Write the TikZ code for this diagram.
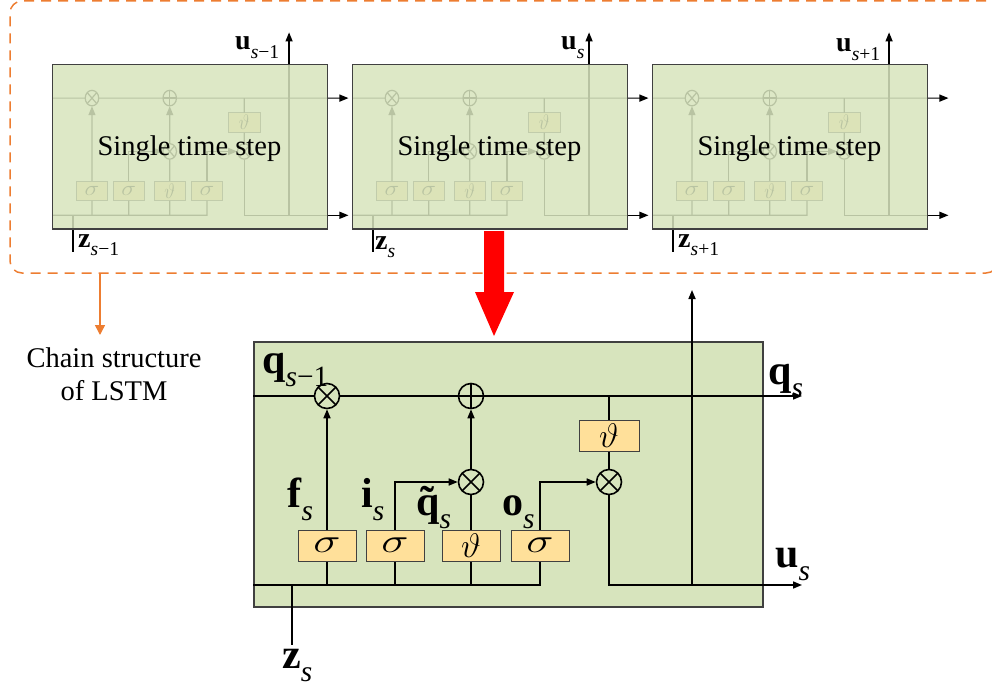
\RequirePackage{fix-cm}
\documentclass[tikz,border=0pt]{standalone}
\usepackage{fontspec}
\setmainfont{Liberation Serif}
\usepackage{graphicx}
\usetikzlibrary{arrows.meta}

\definecolor{cellgreen}{HTML}{D7E4BD}
\definecolor{gatefill}{HTML}{FFE09A}
\definecolor{chainorange}{HTML}{ED7D31}

\newcommand{\vsub}[2]{\textbf{#1}\textsubscript{\raisebox{-.24em}{#2}}}
\newcommand{\tq}{\accent"02DC q}
\newcommand{\sig}{\scalebox{1.35}[1]{$\sigma$}}
\newcommand{\lstmcell}{%
  \coordinate (qin) at (0,55);
  \coordinate (zin) at (0,244);
  \coordinate (qout) at (549,55);
  \coordinate (uout) at (549,244);
  \coordinate (utop) at (439,-51);
  \coordinate (zbot) at (39,304);
  \coordinate (mid) at (254.5,132.5);
  \node[mult] (fx) at (74,55) {};
  \node[addop] (ad) at (218,55) {};
  \node[mult] (ix) at (218,141) {};
  \node[mult] (ox) at (356,141) {};
  \node[gate] (fg) at (74,204.5) {\sig};
  \node[gate] (ig) at (142,204.5) {\sig};
  \node[gate] (cg) at (218,204.5) {$\vartheta$};
  \node[gate] (og) at (287,204.5) {\sig};
  \node[gate,minimum width=60pt] (tg) at (356,94.5) {$\vartheta$};
  \draw[wire] (qin) -- (fx) -- (ad);
  \draw[wire,->] (ad) -- (qout);
  \draw[wire] (zin) -- (og.south |- zin) -- (og);
  \draw[wire] (fg.south |- zin) -- (fg);
  \draw[wire] (ig.south |- zin) -- (ig);
  \draw[wire] (cg.south |- zin) -- (cg);
  \draw[wire,->] (fg) -- (fx);
  \draw[wire,->] (ig) |- (ix);
  \draw[wire] (cg) -- (ix);
  \draw[wire,->] (ix) -- (ad);
  \draw[wire,->] (og) |- (ox);
  \draw[wire] (tg.north |- qin) -- (tg) -- (ox);
  \draw[wire,->] (ox) |- (uout);
  \draw[wire,->] (utop |- uout) -- (utop);
  \draw[wire] (zbot |- zin) -- (zbot);
}

\begin{document}
\begin{tikzpicture}[x=1pt,y=-1pt,>={Triangle[length=9pt,width=7pt]},
  wire/.style={line width=1.6pt},
  gate/.style={draw=black!75,fill=gatefill,line width=1pt,minimum width=58pt,
    minimum height=31pt,inner sep=0pt,font=\fontsize{34}{36}\selectfont},
  mult/.style={circle,draw,wire,minimum size=25pt,inner sep=0pt,
    path picture={\draw[wire] (path picture bounding box.north west)
      -- (path picture bounding box.south east)
      (path picture bounding box.south west)
      -- (path picture bounding box.north east);}},
  addop/.style={circle,draw,wire,minimum size=25pt,inner sep=0pt,
    path picture={\draw[wire] (path picture bounding box.north)
      -- (path picture bounding box.south)
      (path picture bounding box.west)
      -- (path picture bounding box.east);}},
  cellbox/.style={draw=black!75,line width=1.6pt,fill=cellgreen,inner sep=0pt,
    minimum width=509pt,minimum height=265pt,anchor=north west},
  chainbox/.style={draw=chainorange,line width=1.5pt,dash pattern=on 10pt off 7pt,
    rounded corners=12pt,minimum width=988pt,minimum height=272pt},
  steptext/.style={font=\fontsize{28.5}{34}\selectfont},
  smalllbl/.style={anchor=base west,inner sep=0pt,font=\fontsize{28}{30}\selectfont},
  biglbl/.style={anchor=base west,inner sep=0pt,font=\fontsize{42}{44}\selectfont}]
 \useasboundingbox (0,0) rectangle (992,687);
 \node[chainbox] (chain) at (504,137) {};
 \coordinate (chaintip) at (100,335);
 \draw[chainorange,line width=1.5pt,-{Triangle[length=10pt,width=10pt]}]
      (chain.south -| chaintip) -- (chaintip);
 \node[font=\fontsize{28.5}{33}\selectfont,align=center,anchor=north,inner sep=0pt]
      (chainlbl) at (114,348) {Chain structure\\of LSTM};
 \foreach \cx/\cn in {52/c1,352/c2,652/c3}{
  \begin{scope}[shift={(\cx,64)},xscale=.54,yscale=.62,transform shape,
      name prefix=\cn-,wire/.append style={line width=1.2pt}]
   \lstmcell
   \node[cellbox,fill opacity=.86,line width=1.5pt] (box) at (0,0) {};
  \end{scope}
  \node[steptext] (\cn-text) at ([yshift=-3pt]\cn-mid) {Single time step};
 }
 \node[smalllbl] (lu1) at (235,50) {\vsub{u}{\textit{s}−1}};
 \node[smalllbl] (lu2) at (561,50) {\vsub{u}{\textit{s}}};
 \node[smalllbl] (lu3) at (836,52) {\vsub{u}{\textit{s}+1}};
 \node[smalllbl] (lz1) at (78,247) {\vsub{z}{\textit{s}−1}};
 \node[smalllbl] (lz2) at (375,249) {\vsub{z}{\textit{s}}};
 \node[smalllbl] (lz3) at (678,247) {\vsub{z}{\textit{s}+1}};
 \fill[red] (484,231) -- (504,231) -- (504,292) -- (514,292) -- (494,336)
      -- (475,292) -- (484,292) -- cycle;
 \begin{scope}[shift={(253,341)},name prefix=big-]
  \node[cellbox] (box) at (0,0) {};
  \lstmcell
 \end{scope}
 \node[biglbl] (lqp) at (262,373) {\vsub{q}{\textit{s}−1}};
 \node[biglbl] (lf) at (287,507) {\vsub{f}{\textit{s}}};
 \node[biglbl] (li) at (361,507) {\vsub{i}{\textit{s}}};
 \node[biglbl] (lqt) at (416,515) {\vsub{\tq}{\textit{s}}};
 \node[biglbl] (lo) at (502,515) {\vsub{o}{\textit{s}}};
 \node[biglbl] (lq) at (768,384) {\vsub{q}{\textit{s}}};
 \node[biglbl] (lu) at (775,567) {\vsub{u}{\textit{s}}};
 \node[biglbl] (lz) at (282,668) {\vsub{z}{\textit{s}}};
\end{tikzpicture}
\end{document}
